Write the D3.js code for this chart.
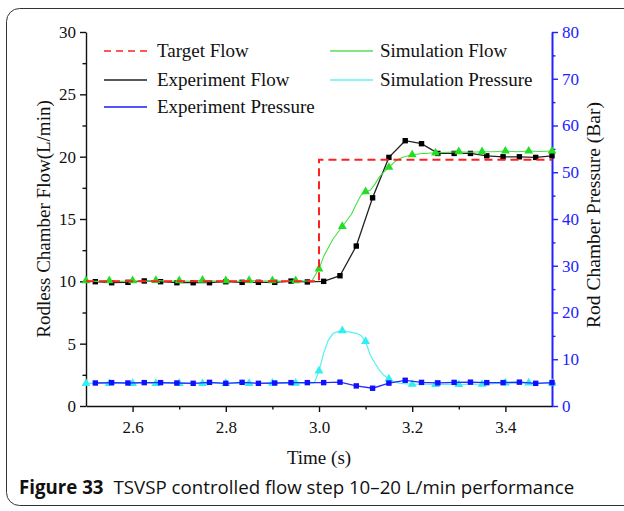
<!DOCTYPE html>
<html>
<head>
<meta charset="utf-8">
<script src="https://cdn.jsdelivr.net/npm/d3@7"></script>
<style>
  body { margin: 0; background: #fff; }
  svg { display: block; }
</style>
</head>
<body>
<div id="chart"></div>
<script>
// target flow (L/min)
const targetT = [2.5, 3.0, 3.0, 3.5];
const targetV = [10, 10, 19.75, 19.75];

// experiment samples, one every 0.035 s
const expT = [2.52, 2.555, 2.59, 2.625, 2.66, 2.695, 2.73, 2.765, 2.8, 2.835, 2.87, 2.905, 2.94, 2.975,
  3.01, 3.045, 3.08, 3.115, 3.15, 3.185, 3.22, 3.255, 3.29, 3.325, 3.36, 3.395, 3.43, 3.465, 3.5];
const expFlow = [9.97, 9.89, 9.92, 10.03, 9.97, 9.89, 9.89, 9.89, 9.97, 9.92, 9.92, 9.92, 10.02, 9.95,
  10.0, 10.45, 12.83, 16.7, 19.94, 21.28, 21.04, 20.26, 20.26, 20.26, 20.07, 19.99, 19.99, 19.94, 20.07];
const expPress = [4.92, 5.0, 4.92, 5.0, 5.0, 4.92, 4.85, 5.06, 4.85, 5.06, 4.85, 4.92, 5.0, 5.0,
  5.0, 5.1, 4.3, 3.8, 4.9, 5.5, 5.05, 4.95, 5.05, 5.1, 5.0, 5.0, 5.1, 4.85, 5.0];

// simulation flow (L/min)
const simFlowT = [2.5, 2.525, 2.55, 2.575, 2.6, 2.625, 2.65, 2.675, 2.7, 2.725, 2.75, 2.775, 2.8, 2.825,
  2.85, 2.875, 2.9, 2.925, 2.95, 2.975, 2.985, 3.0, 3.01, 3.02, 3.03, 3.04, 3.05, 3.06, 3.07, 3.08, 3.09,
  3.1, 3.11, 3.12, 3.13, 3.14, 3.15, 3.16, 3.17, 3.18, 3.19, 3.2, 3.21, 3.22, 3.23, 3.24, 3.25, 3.275,
  3.3, 3.325, 3.35, 3.375, 3.4, 3.425, 3.45, 3.475, 3.5];
const simFlowV = [10.05, 10.0, 10.05, 10.0, 10.05, 10.0, 10.08, 10.0, 10.05, 10.0, 10.1, 10.02, 10.05, 10.0,
  10.08, 10.02, 10.05, 10.0, 10.05, 10.02, 10.05, 11.0, 12.0, 12.7, 13.4, 13.9, 14.4, 14.9, 15.4, 16.2, 16.9,
  17.2, 17.3, 17.8, 18.4, 18.8, 19.15, 19.5, 19.8, 19.95, 20.05, 20.15, 20.2, 20.25, 20.25, 20.3, 20.3, 20.35,
  20.4, 20.35, 20.4, 20.4, 20.45, 20.4, 20.45, 20.42, 20.45];

// simulation pressure (Bar)
const simPressT = [2.5, 2.525, 2.55, 2.575, 2.6, 2.625, 2.65, 2.675, 2.7, 2.725, 2.75, 2.775, 2.8, 2.825,
  2.85, 2.875, 2.9, 2.925, 2.95, 2.975, 2.99, 3.0, 3.01, 3.02, 3.03, 3.04, 3.05, 3.06, 3.07, 3.08, 3.09,
  3.1, 3.11, 3.12, 3.13, 3.14, 3.15, 3.16, 3.175, 3.2, 3.225, 3.25, 3.275, 3.3, 3.325, 3.35, 3.375,
  3.4, 3.425, 3.45, 3.475, 3.5];
const simPressV = [4.85, 4.9, 4.8, 4.9, 4.85, 4.95, 4.8, 4.9, 4.85, 4.9, 4.8, 4.9, 4.85, 4.9,
  4.85, 4.9, 4.9, 4.85, 4.9, 4.85, 4.95, 7.5, 11.3, 14.1, 15.5, 15.9, 16.1, 15.9, 15.75, 15.55, 15.1,
  13.8, 10.9, 9.2, 7.6, 6.5, 5.8, 5.2, 4.85, 4.65, 4.7, 4.6, 4.7, 4.6, 4.7, 4.65, 4.8,
  4.95, 4.85, 4.95, 4.85, 4.9];

const xMajor = [2.6, 2.8, 3.0, 3.2, 3.4];
const xMinor = [2.7, 2.9, 3.1, 3.3];
const yMajor = [0, 5, 10, 15, 20, 25, 30];
const yMinor = [2.5, 7.5, 12.5, 17.5, 22.5, 27.5];
const y2Major = [0, 10, 20, 30, 40, 50, 60, 70, 80];
const y2Minor = [5, 15, 25, 35, 45, 55, 65, 75];

const legendItems = [
  {name: "Target Flow", color: "#ff2020", dash: "7,5", col: 0, row: 0},
  {name: "Experiment Flow", color: "#222", dash: null, col: 0, row: 1},
  {name: "Experiment Pressure", color: "#1a1aff", dash: null, col: 0, row: 2},
  {name: "Simulation Flow", color: "#55e055", dash: null, col: 1, row: 0},
  {name: "Simulation Pressure", color: "#66f0f0", dash: null, col: 1, row: 1}
];

const W = 624, H = 511;
const plot = {left: 86, right: 552, top: 32, bottom: 406};
const serif = "'Liberation Serif', 'Times New Roman', serif";

const svg = d3.select("#chart").append("svg")
  .attr("width", W).attr("height", H);

// figure frame
svg.append("rect")
  .attr("x", 6.5).attr("y", 8.5)
  .attr("width", 700).attr("height", 497)
  .attr("rx", 13)
  .attr("fill", "none").attr("stroke", "#333").attr("stroke-width", 1);

const x = d3.scaleLinear().domain([2.5, 3.5]).range([plot.left, plot.right]);
const y = d3.scaleLinear().domain([0, 30]).range([plot.bottom, plot.top]);
const y2 = d3.scaleLinear().domain([0, 80]).range([plot.bottom, plot.top]);

function styleAxis(g, color) {
  g.attr("font-family", serif).attr("font-size", 17);
  g.select(".domain").attr("stroke", color).attr("stroke-width", 1.4);
  g.selectAll(".tick line").attr("stroke", color).attr("stroke-width", 1.4);
  g.selectAll(".tick text").attr("fill", color)
    .style("font-family", serif).style("font-size", "17px");
}

// bottom axis
const gx = svg.append("g").attr("transform", `translate(0,${plot.bottom})`)
  .call(d3.axisBottom(x).tickValues(xMajor).tickSize(6).tickSizeOuter(0).tickPadding(9)
    .tickFormat(d3.format(".1f")));
styleAxis(gx, "#111");
svg.append("g").attr("transform", `translate(0,${plot.bottom})`)
  .call(d3.axisBottom(x).tickValues(xMinor).tickSize(3.5).tickFormat(""))
  .call(g => { g.select(".domain").remove(); g.selectAll("line").attr("stroke", "#111").attr("stroke-width", 1.4); });

// left axis
const gy = svg.append("g").attr("transform", `translate(${plot.left},0)`)
  .call(d3.axisLeft(y).tickValues(yMajor).tickSize(6).tickSizeOuter(0).tickPadding(4));
styleAxis(gy, "#111");
svg.append("g").attr("transform", `translate(${plot.left},0)`)
  .call(d3.axisLeft(y).tickValues(yMinor).tickSize(3.5).tickFormat(""))
  .call(g => { g.select(".domain").remove(); g.selectAll("line").attr("stroke", "#111").attr("stroke-width", 1.4); });

// right axis
const gy2 = svg.append("g").attr("transform", `translate(${plot.right},0)`)
  .call(d3.axisRight(y2).tickValues(y2Major).tickSize(6).tickSizeOuter(0).tickPadding(4));
styleAxis(gy2, "#2222ff");
gy2.select(".domain").attr("stroke-width", 2);
svg.append("g").attr("transform", `translate(${plot.right},0)`)
  .call(d3.axisRight(y2).tickValues(y2Minor).tickSize(3.5).tickFormat(""))
  .call(g => { g.select(".domain").remove(); g.selectAll("line").attr("stroke", "#2222ff").attr("stroke-width", 1.4); });

// axis titles
svg.append("text")
  .attr("transform", `translate(50,${(plot.top + plot.bottom) / 2}) rotate(-90)`)
  .attr("text-anchor", "middle")
  .style("font-family", serif).style("font-size", "19px").attr("fill", "#111")
  .text("Rodless Chamber Flow(L/min)");
svg.append("text")
  .attr("transform", `translate(600,${(plot.top + plot.bottom) / 2 - 4}) rotate(-90)`)
  .attr("text-anchor", "middle")
  .style("font-family", serif).style("font-size", "19.5px").attr("fill", "#111")
  .text("Rod Chamber Pressure (Bar)");
svg.append("text")
  .attr("x", (plot.left + plot.right) / 2).attr("y", 464)
  .attr("text-anchor", "middle")
  .style("font-family", serif).style("font-size", "19px").attr("fill", "#111")
  .text("Time (s)");

// lines
const zip = (ts, vs) => ts.map((t, i) => ({t: t, v: vs[i]}));
const lineF = d3.line().x(d => x(d.t)).y(d => y(d.v));
const lineP = d3.line().x(d => x(d.t)).y(d => y2(d.v));
const onGrid = d => Math.abs(d.t * 20 - Math.round(d.t * 20)) < 1e-6;

const simP = zip(simPressT, simPressV);
const expP = zip(expT, expPress);
const expF = zip(expT, expFlow);
const simF = zip(simFlowT, simFlowV);
const tgt = zip(targetT, targetV);

const tri = d3.symbol().type(d3.symbolTriangle).size(34);

svg.append("path").datum(simP).attr("d", lineP)
  .attr("fill", "none").attr("stroke", "#55f0f0").attr("stroke-width", 1.2);
svg.selectAll(".simPm").data(simP.filter(onGrid)).join("path")
  .attr("transform", d => `translate(${x(d.t)},${y2(d.v)})`)
  .attr("d", tri).attr("fill", "#33eeee");

svg.append("path").datum(expP).attr("d", lineP)
  .attr("fill", "none").attr("stroke", "#2a2aff").attr("stroke-width", 1.3);
svg.selectAll(".expPm").data(expP).join("rect")
  .attr("x", d => x(d.t) - 2.7).attr("y", d => y2(d.v) - 2.7)
  .attr("width", 5.4).attr("height", 5.4).attr("fill", "#1010ff");

svg.append("path").datum(expF).attr("d", lineF)
  .attr("fill", "none").attr("stroke", "#222").attr("stroke-width", 1.3);
svg.selectAll(".expFm").data(expF).join("rect")
  .attr("x", d => x(d.t) - 2.7).attr("y", d => y(d.v) - 2.7)
  .attr("width", 5.4).attr("height", 5.4).attr("fill", "#000");

svg.append("path").datum(simF).attr("d", lineF)
  .attr("fill", "none").attr("stroke", "#44e044").attr("stroke-width", 1.1);
svg.selectAll(".simFm").data(simF.filter(onGrid)).join("path")
  .attr("transform", d => `translate(${x(d.t)},${y(d.v)})`)
  .attr("d", tri).attr("fill", "#22dd22");

svg.append("path").datum(tgt).attr("d", lineF)
  .attr("fill", "none").attr("stroke", "#ff2020").attr("stroke-width", 2)
  .attr("stroke-dasharray", "8,5");

// legend
const legCol = [{lx: 104, tx: 157}, {lx: 330, tx: 380}];
const legRow = [51, 80, 107];
const leg = svg.append("g");
legendItems.forEach(it => {
  const c = legCol[it.col], ry = legRow[it.row];
  leg.append("line")
    .attr("x1", c.lx).attr("x2", c.lx + 43).attr("y1", ry).attr("y2", ry)
    .attr("stroke", it.color).attr("stroke-width", 1.5)
    .attr("stroke-dasharray", it.dash);
  leg.append("text")
    .attr("x", c.tx).attr("y", ry + 6)
    .style("font-family", serif).style("font-size", "19px").attr("fill", "#111")
    .text(it.name);
});

// caption
const cap = svg.append("text")
  .attr("x", 19).attr("y", 494)
  .style("font-family", "'Open Sans', 'Noto Sans', sans-serif").style("font-size", "18.7px")
  .attr("fill", "#111");
cap.append("tspan").style("font-weight", "bold").text("Figure 33");
cap.append("tspan").attr("dx", 10).text("TSVSP controlled flow step 10\u201320 L/min performance");
</script>
</body>
</html>
